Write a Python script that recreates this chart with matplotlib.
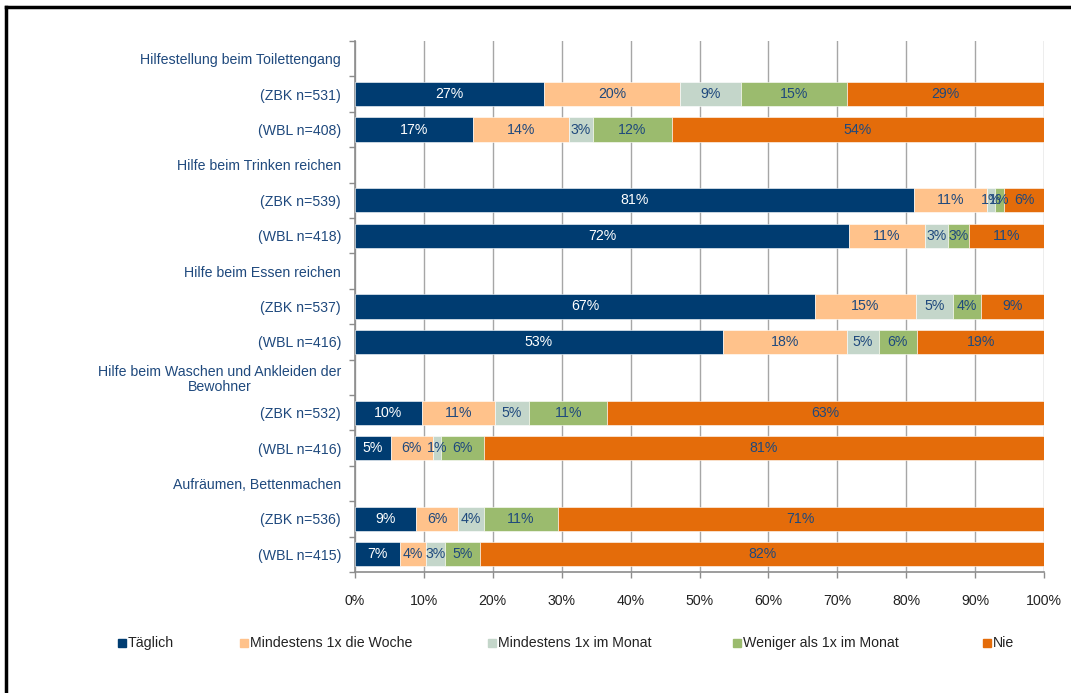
import matplotlib.pyplot as plt
from matplotlib.lines import Line2D
from matplotlib.patches import Rectangle

plt.rcParams['font.family'] = ['Liberation Sans', 'DejaVu Sans']

# row labels, top to bottom; None values = header rows without a bar
row_labels = [
    "Hilfestellung beim Toilettengang", "(ZBK n=531)", "(WBL n=408)",
    "Hilfe beim Trinken reichen", "(ZBK n=539)", "(WBL n=418)",
    "Hilfe beim Essen reichen", "(ZBK n=537)", "(WBL n=416)",
    "Hilfe beim Waschen und Ankleiden der\nBewohner", "(ZBK n=532)", "(WBL n=416)",
    "Aufräumen, Bettenmachen", "(ZBK n=536)", "(WBL n=415)",
]
series = ["Täglich", "Mindestens 1x die Woche", "Mindestens 1x im Monat",
          "Weniger als 1x im Monat", "Nie"]
colors = ["#003C71", "#FFC28B", "#C4D6CA", "#9BBB6E", "#E46C0A"]

taeglich = [None, 27.4, 17.1, None, 81.1, 71.7, None, 66.8, 53.4, None, 9.7, 5.2, None, 8.9, 6.6]
woche    = [None, 19.8, 14.0, None, 10.6, 11.0, None, 14.6, 18.0, None, 10.6, 6.1, None, 6.0, 3.7]
monat    = [None, 8.8, 3.4, None, 1.2, 3.4, None, 5.4, 4.6, None, 5.0, 1.2, None, 3.8, 2.7]
weniger  = [None, 15.4, 11.5, None, 1.3, 3.0, None, 4.0, 5.5, None, 11.3, 6.2, None, 10.7, 5.2]
nie      = [None, 28.6, 54.0, None, 5.8, 10.9, None, 9.2, 18.6, None, 63.4, 81.3, None, 70.6, 81.8]

data = [taeglich, woche, monat, weniger, nie]

fig = plt.figure(figsize=(10.71, 6.93), dpi=100)
ax = fig.add_axes([355 / 1071, 1 - 572 / 693, (1044 - 355) / 1071, (572 - 41) / 693])

text_blue = "#1F497D"
fs = 10.2
for i in range(len(row_labels)):
    if taeglich[i] is None:
        continue
    left = 0
    for s, vals in enumerate(data):
        v = vals[i]
        ax.barh(i, v, left=left, height=0.68, color=colors[s], edgecolor="white",
                linewidth=0.4, zorder=3)
        ax.text(left + v / 2, i, f"{round(v)}%", ha="center", va="center",
                fontsize=fs, color="white" if s == 0 else text_blue, zorder=4)
        left += v

ax.set_xlim(0, 100)
ax.set_ylim(len(row_labels) - 0.5, -0.5)
ax.set_xticks(range(0, 101, 10))
ax.set_xticklabels([f"{t}%" for t in range(0, 101, 10)], fontsize=fs, color="#222222")
ax.set_yticks(range(len(row_labels)))
ax.set_yticklabels(row_labels, fontsize=fs, color=text_blue, linespacing=1.15)
for lab in ax.get_yticklabels():
    lab.set_multialignment("center")
ax.set_yticks([k - 0.5 for k in range(len(row_labels) + 1)], minor=True)
ax.tick_params(axis="y", which="major", length=0, pad=10)
ax.tick_params(axis="y", which="minor", length=4, color="#8C8C8C", width=1)
ax.tick_params(axis="x", length=4, color="#8C8C8C", width=1, pad=12)

ax.grid(axis="x", color="#A6A6A6", linewidth=1, zorder=0)
ax.set_axisbelow(True)
for side in ["top", "right"]:
    ax.spines[side].set_visible(False)
for side in ["left", "bottom"]:
    ax.spines[side].set_color("#8C8C8C")
    ax.spines[side].set_linewidth(1.2)

# legend, placed like the original
leg_x = [118, 240, 488, 733, 983]
for s, name in enumerate(series):
    fig.patches.append(Rectangle((leg_x[s] / 1071, 1 - 647 / 693), 8 / 1071, 8 / 693,
                                 transform=fig.transFigure, color=colors[s]))
    fig.text((leg_x[s] + 10) / 1071, 1 - 643 / 693, name, fontsize=fs,
             color="#222222", va="center", ha="left")

# chart frame (left and top edges visible)
fig.add_artist(Line2D([6 / 1071, 6 / 1071], [0, 1 - 7 / 693], color="black", linewidth=2.5,
                      transform=fig.transFigure))
fig.add_artist(Line2D([6 / 1071, 1], [1 - 7 / 693, 1 - 7 / 693], color="black", linewidth=2.5,
                      transform=fig.transFigure))

fig.savefig("out.png", dpi=100)
